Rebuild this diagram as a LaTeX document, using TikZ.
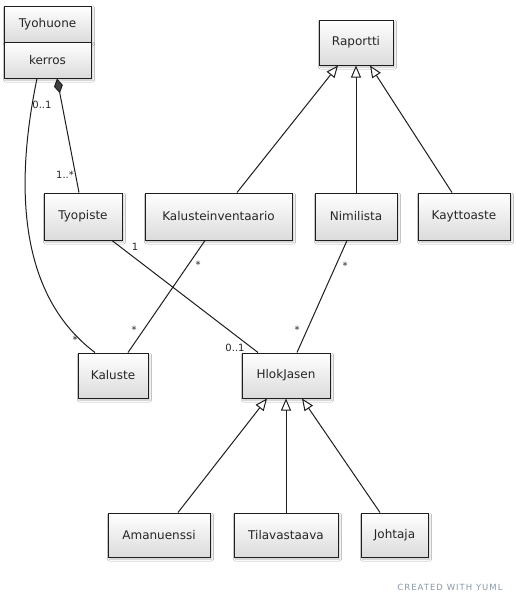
\documentclass[tikz,border=0pt]{standalone}
\usepackage{fontspec}
\setmainfont{DejaVu Sans}
\usetikzlibrary{arrows.meta,shadows.blur}
\definecolor{lineC}{HTML}{1E1E1E}
\definecolor{wmC}{HTML}{8A98A8}
\begin{document}
\begin{tikzpicture}[x=1pt,y=-1pt,
  cls/.style={draw=lineC, line width=1pt, top color=white, bottom color=black!14,
    blur shadow={shadow xshift=1.5pt, shadow yshift=-2pt, shadow blur steps=4, shadow opacity=25, shadow blur radius=2pt},
    inner sep=0pt, font=\fontsize{12}{14}\selectfont, text=black!85},
  conn/.style={draw=lineC, line width=1pt},
  gen/.style={conn, -{Triangle[fill=white, length=12pt, width=10pt]}},
  comp/.style={conn, {Diamond[fill=black!75, length=15pt, width=9pt]}-},
  mult/.style={inner sep=0pt, font=\fontsize{10}{12}\selectfont, text=black!85}]
\useasboundingbox (0,0) rectangle (515,603);
\fill[white] (0,0) rectangle (515,603);

% classes
\node[cls, minimum width=87pt, minimum height=36pt] (tyohuone) at (47.5,24) {Tyohuone};
\node[cls, minimum width=87pt, minimum height=36pt] (kerros) at (47.5,60) {kerros};
\node[cls, minimum width=74pt, minimum height=45pt] (raportti) at (356,42.5) {Raportti};
\node[cls, minimum width=78pt, minimum height=47pt] (tyopiste) at (83,216.5) {Tyopiste};
\node[cls, minimum width=147pt, minimum height=47pt] (kalinv) at (218.5,216.5) {Kalusteinventaario};
\node[cls, minimum width=82pt, minimum height=47pt] (nimilista) at (356,216.5) {Nimilista};
\node[cls, minimum width=92pt, minimum height=47pt] (kayttoaste) at (464,216.5) {Kayttoaste};
\node[cls, minimum width=70pt, minimum height=45pt] (kaluste) at (113,375.5) {Kaluste};
\node[cls, minimum width=88pt, minimum height=45pt] (hlok) at (286,375.5) {HlokJasen};
\node[cls, minimum width=102pt, minimum height=44pt] (amanuenssi) at (159,535) {Amanuenssi};
\node[cls, minimum width=104pt, minimum height=44pt] (tilavastaava) at (286,535) {Tilavastaava};
\node[cls, minimum width=67pt, minimum height=44pt] (johtaja) at (394.5,535) {Johtaja};

% generalizations
\draw[gen] ([xshift=18.5pt]kalinv.north) -- ([xshift=-18pt]raportti.south);
\draw[gen] (nimilista.north) -- (raportti.south);
\draw[gen] ([xshift=-12pt]kayttoaste.north) -- ([xshift=14pt]raportti.south);
\draw[gen] ([xshift=19pt]amanuenssi.north) -- ([xshift=-19pt]hlok.south);
\draw[gen] (tilavastaava.north) -- (hlok.south);
\draw[gen] ([xshift=-14.5pt]johtaja.north) -- ([xshift=16pt]hlok.south);

% associations
\draw[comp] ([xshift=9.5pt]kerros.south) -- ([xshift=-4pt]tyopiste.north);
\draw[conn] ([xshift=-10.5pt]kerros.south) .. controls (18,170) and (12,290) .. ([xshift=-18pt]kaluste.north);
\draw[conn] ([xshift=29pt]tyopiste.south) -- ([xshift=-28pt]hlok.north);
\draw[conn] ([xshift=-13.5pt]kalinv.south) -- ([xshift=15pt]kaluste.north);
\draw[conn] ([xshift=-9pt]nimilista.south) -- ([xshift=11pt]hlok.north);

% multiplicities
\node[mult] (m1) at (42,105) {0..1};
\node[mult] (m2) at (65,175) {1..*};
\node[mult] (m3) at (75,340) {*};
\node[mult] (m4) at (135,247) {1};
\node[mult] (m5) at (235,348) {0..1};
\node[mult] (m6) at (198,265) {*};
\node[mult] (m7) at (134,330) {*};
\node[mult] (m8) at (345,266) {*};
\node[mult] (m9) at (297,330) {*};

% watermark
\node[inner sep=0pt, text=wmC, font=\fontsize{8.5}{10}\selectfont\addfontfeature{LetterSpace=12}] (wm) at (450,587) {CREATED WITH YUML};
\end{tikzpicture}
\end{document}
